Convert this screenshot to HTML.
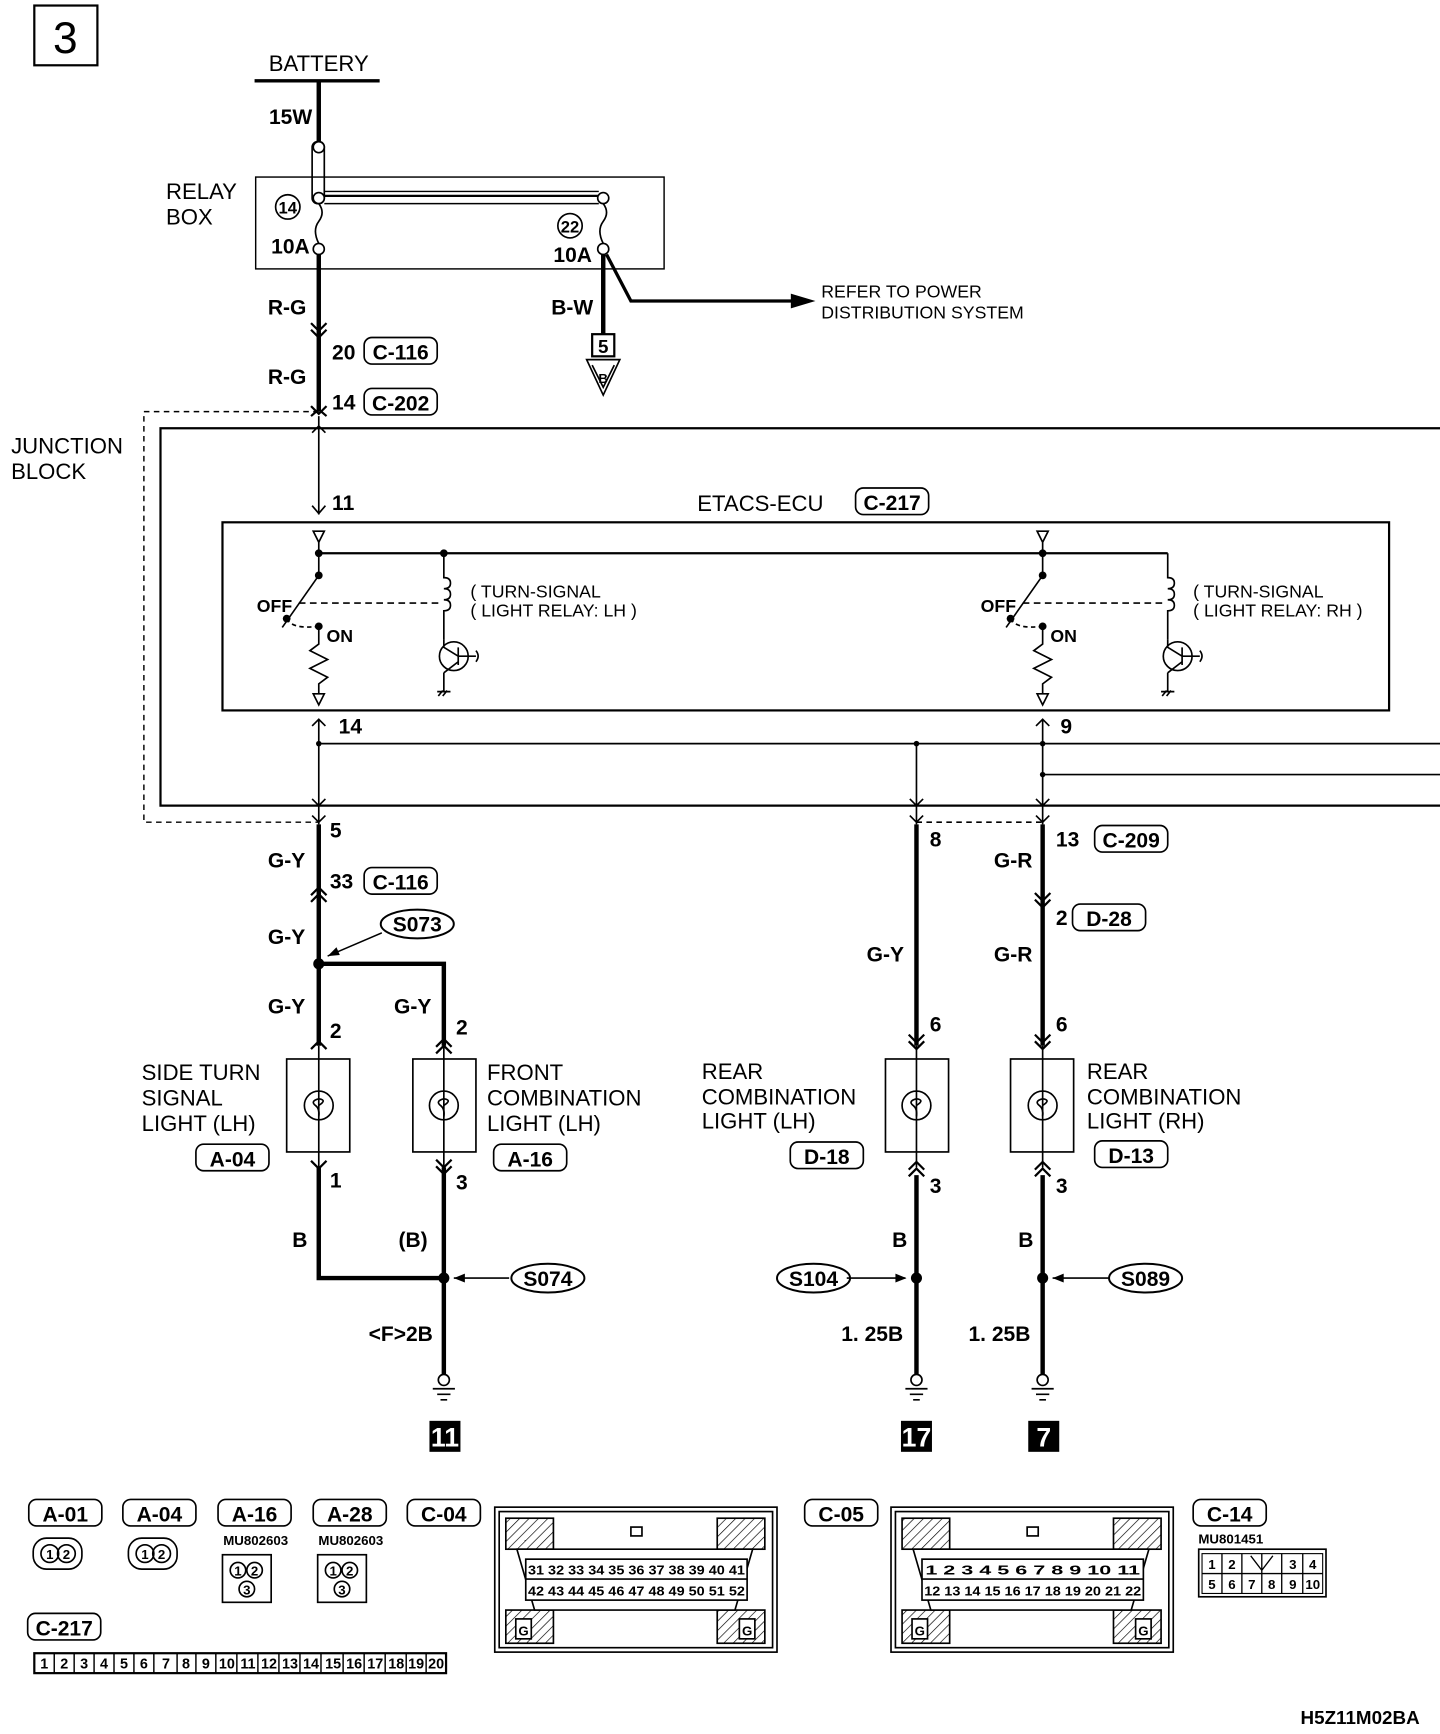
<!DOCTYPE html>
<html><head><meta charset="utf-8"><style>
html,body{margin:0;padding:0;background:#fff;}
svg{display:block}
text{font-family:"Liberation Sans",sans-serif;fill:#000}
.b{font-weight:bold}
.l{font-size:20px}
.s{font-size:19px;font-weight:bold}
</style></head><body>
<svg width="1440" height="1734" viewBox="0 0 1301 1567" preserveAspectRatio="none" xmlns="http://www.w3.org/2000/svg" stroke="#000" fill="none">
<defs><pattern id="h" width="6" height="6" patternUnits="userSpaceOnUse" patternTransform="rotate(45)"><line x1="0" y1="0" x2="0" y2="6" stroke="#000" stroke-width="1.2"/></pattern></defs>
<g stroke-width="2">
<rect x="31" y="5" width="57" height="54"/>
</g>
<text x="59" y="48" font-size="40" text-anchor="middle" stroke="none">3</text>
<text x="288" y="64" class="l" text-anchor="middle" stroke="none">BATTERY</text>
<line x1="230" y1="73" x2="343" y2="73" stroke-width="3"/>
<line x1="288" y1="73" x2="288" y2="128" stroke-width="4"/>
<text x="243" y="112" class="s" stroke="none">15W</text>
<rect x="282" y="128" width="11" height="56" rx="5" stroke-width="1.5"/>
<circle cx="288" cy="133" r="5" fill="#fff" stroke-width="1.5"/>
<circle cx="288" cy="179" r="5" fill="#fff" stroke-width="1.5"/>
<rect x="231" y="160" width="369" height="83" stroke-width="1.3"/>
<text x="150" y="180" class="l" stroke="none">RELAY</text>
<text x="150" y="203" class="l" stroke="none">BOX</text>
<line x1="293" y1="173" x2="541" y2="173" stroke-width="1.3"/>
<line x1="293" y1="177" x2="541" y2="177" stroke-width="2"/>
<line x1="293" y1="184" x2="541" y2="184" stroke-width="1.3"/>
<circle cx="545" cy="179" r="5" fill="#fff" stroke-width="1.5"/>
<circle cx="260" cy="187" r="11" stroke-width="1.5"/>
<text x="260" y="193" font-size="15" class="b" text-anchor="middle" stroke="none">14</text>
<text x="245" y="229" class="s" stroke="none">10A</text>
<path d="M288 184 q6 8 0 16 q-6 8 0 20" stroke-width="1.5"/>
<circle cx="288" cy="225" r="5" fill="#fff" stroke-width="1.5"/>
<circle cx="515" cy="204" r="11" stroke-width="1.5"/>
<text x="515" y="210" font-size="15" class="b" text-anchor="middle" stroke="none">22</text>
<text x="500" y="237" class="s" stroke="none">10A</text>
<path d="M545 184 q6 8 0 16 q-6 8 0 20" stroke-width="1.5"/>
<circle cx="545" cy="225" r="5" fill="#fff" stroke-width="1.5"/>
<line x1="545" y1="230" x2="545" y2="302" stroke-width="4"/>
<text x="498" y="284" class="s" stroke="none">B-W</text>
<path d="M548 230 L570 272 L715 272" stroke-width="3"/>
<path d="M715 266 L735 272 L715 278 Z" fill="#000"/>
<text x="742" y="269" font-size="16" stroke="none">REFER TO POWER</text>
<text x="742" y="288" font-size="16" stroke="none">DISTRIBUTION SYSTEM</text>
<rect x="535" y="302" width="20" height="20" stroke-width="2"/>
<text x="545" y="319" font-size="17" class="b" text-anchor="middle" stroke="none">5</text>
<path d="M530 325 L560 325 L545 357 Z M535 330 L545 350 L555 330" stroke-width="1.5"/>
<text x="545" y="346" font-size="12" class="b" text-anchor="middle" stroke="none">B</text>
<line x1="288" y1="230" x2="288" y2="372" stroke-width="4"/>
<path d="M281 292 L288 299 L295 292 M281 298 L288 305 L295 298" stroke-width="2"/>
<path d="M281 367 L288 374 L295 367 M281 376 L288 370 L295 376" stroke-width="2"/>
<text x="242" y="284" class="s" stroke="none">R-G</text>
<text x="242" y="347" class="s" stroke="none">R-G</text>
<text x="300" y="325" class="s" stroke="none">20</text>
<rect x="329" y="305" width="66" height="24" rx="7" stroke-width="1.5"/>
<text x="362" y="325" class="s" text-anchor="middle" stroke="none">C-116</text>
<text x="300" y="370" class="s" stroke="none">14</text>
<rect x="329" y="351" width="66" height="24" rx="7" stroke-width="1.5"/>
<text x="362" y="371" class="s" text-anchor="middle" stroke="none">C-202</text>
<path d="M288 372 L130 372 L130 743 L288 743" stroke-width="1.3" stroke-dasharray="5,4"/>
<path d="M1301 387 L145 387 L145 728 L1301 728" stroke-width="2"/>
<text x="10" y="410" class="l" stroke="none">JUNCTION</text>
<text x="10" y="433" class="l" stroke="none">BLOCK</text>
<line x1="288" y1="376" x2="288" y2="465" stroke-width="1.5"/>
<path d="M282 391 L288 385 L294 391 M282 457 L288 464 L294 457" stroke-width="1.5"/>
<text x="300" y="461" class="s" stroke="none">11</text>
<text x="630" y="462" class="l" stroke="none">ETACS-ECU</text>
<rect x="773" y="441" width="66" height="24" rx="7" stroke-width="1.5"/>
<text x="806" y="461" class="s" text-anchor="middle" stroke="none">C-217</text>
<rect x="201" y="472" width="1054" height="170" stroke-width="2"/>
<line x1="288" y1="500" x2="1055" y2="500" stroke-width="2"/>
<g fill="#000" stroke="none">
<circle cx="288" cy="500" r="3.5"/><circle cx="401" cy="500" r="3.5"/><circle cx="942" cy="500" r="3.5"/>
<circle cx="288" cy="520" r="3.5"/><circle cx="259" cy="559" r="3.5"/><circle cx="288" cy="566" r="3.5"/>
<circle cx="942" cy="520" r="3.5"/><circle cx="913" cy="559" r="3.5"/><circle cx="942" cy="566" r="3.5"/>
</g>
<g stroke-width="1.5">
<path d="M283 480 L293 480 L288 490 Z"/>
<line x1="288" y1="490" x2="288" y2="520"/>
<path d="M288 520 L255 567"/>
<path d="M259 559 q5 10 29 7" stroke-dasharray="4,3"/>
<line x1="270" y1="545" x2="396" y2="545" stroke-dasharray="6,4"/>
<path d="M288 566 L288 582 L280 588 L296 596 L280 604 L296 612 L288 618 L288 627"/>
<path d="M283 627 L293 627 L288 637 Z"/>
<path d="M401 500 L401 522 q6 0 6 5 q0 5 -6 5 q6 0 6 5 q0 5 -6 5 q6 0 6 5 q0 5 -6 5 L401 578"/>
<circle cx="410" cy="593" r="13"/>
<path d="M401 578 L401 585 L414 593 M414 585 L414 601 M401 608 L414 598 M414 593 L430 593 M430 588 q4 5 0 10 M401 608 L401 625 M395 625 L407 625 M396 629 L400 624 M400 629 L404 624"/>
<path d="M942 490 L942 520 M937 480 L947 480 L942 490 Z M942 520 L909 567"/>
<path d="M913 559 q5 10 29 7" stroke-dasharray="4,3"/>
<line x1="924" y1="545" x2="1050" y2="545" stroke-dasharray="6,4"/>
<path d="M942 566 L942 582 L934 588 L950 596 L934 604 L950 612 L942 618 L942 627"/>
<path d="M937 627 L947 627 L942 637 Z"/>
<path d="M1055 500 L1055 522 q6 0 6 5 q0 5 -6 5 q6 0 6 5 q0 5 -6 5 q6 0 6 5 q0 5 -6 5 L1055 578"/>
<circle cx="1064" cy="593" r="13"/>
<path d="M1055 578 L1055 585 L1068 593 M1068 585 L1068 601 M1055 608 L1068 598 M1068 593 L1084 593 M1084 588 q4 5 0 10 M1055 608 L1055 625 M1049 625 L1061 625 M1050 629 L1054 624 M1054 629 L1058 624"/>
</g>
<text x="232" y="553" font-size="16" class="b" stroke="none">OFF</text>
<text x="295" y="580" font-size="16" class="b" stroke="none">ON</text>
<text x="886" y="553" font-size="16" class="b" stroke="none">OFF</text>
<text x="949" y="580" font-size="16" class="b" stroke="none">ON</text>
<text x="425" y="540" font-size="16" stroke="none">( TURN-SIGNAL</text>
<text x="425" y="557" font-size="16" stroke="none">( LIGHT RELAY: LH  )</text>
<text x="1078" y="540" font-size="16" stroke="none">( TURN-SIGNAL</text>
<text x="1078" y="557" font-size="16" stroke="none">( LIGHT RELAY: RH  )</text>
<g stroke-width="1.5">
<line x1="288" y1="650" x2="288" y2="745"/>
<path d="M282 656 L288 650 L294 656"/>
<line x1="942" y1="650" x2="942" y2="745"/>
<path d="M936 656 L942 650 L948 656"/>
<line x1="288" y1="672" x2="1301" y2="672"/>
<line x1="942" y1="700" x2="1301" y2="700"/>
<line x1="828" y1="672" x2="828" y2="745"/>
<path d="M282 722 L288 728 L294 722 M282 737 L288 743 L294 737"/>
<path d="M822 722 L828 728 L834 722 M822 737 L828 743 L834 737"/>
<path d="M936 722 L942 728 L948 722 M936 737 L942 743 L948 737"/>
<line x1="828" y1="743" x2="942" y2="743" stroke-dasharray="5,4"/>
</g>
<g fill="#000" stroke="none"><circle cx="288" cy="672" r="2.5"/><circle cx="828" cy="672" r="2.5"/><circle cx="942" cy="672" r="2.5"/><circle cx="942" cy="700" r="2.5"/></g>
<text x="306" y="663" class="s" stroke="none">14</text>
<text x="958" y="663" class="s" stroke="none">9</text>
<text x="298" y="757" class="s" stroke="none">5</text>
<text x="840" y="765" class="s" stroke="none">8</text>
<text x="954" y="765" class="s" stroke="none">13</text>
<rect x="989" y="746" width="66" height="24" rx="7" stroke-width="1.5"/>
<text x="1022" y="766" class="s" text-anchor="middle" stroke="none">C-209</text>
<g stroke-width="4">
<line x1="288" y1="745" x2="288" y2="945"/>
<path d="M288 871 L401 871 L401 945"/>
<line x1="828" y1="745" x2="828" y2="945"/>
<line x1="942" y1="745" x2="942" y2="945"/>
</g>
<g stroke-width="2">
<path d="M281 809 L288 802 L295 809 M281 815 L288 808 L295 815"/>
<path d="M935 807 L942 814 L949 807 M935 813 L942 820 L949 813"/>
<path d="M281 948 L288 941 L295 948"/>
<path d="M394 946 L401 939 L408 946 M394 952 L401 945 L408 952"/>
<path d="M821 935 L828 942 L835 935 M821 941 L828 948 L835 941"/>
<path d="M935 935 L942 942 L949 935 M935 941 L942 948 L949 941"/>
</g>
<circle cx="288" cy="871" r="5" fill="#000" stroke="none"/>
<path d="M296 864 L345 843" stroke-width="1.3"/>
<path d="M296 864 L304 856 L307 863 Z" fill="#000" stroke="none"/>
<ellipse cx="377" cy="835" rx="33" ry="13" stroke-width="1.8"/>
<text x="377" y="842" class="s" text-anchor="middle" stroke="none">S073</text>
<text x="242" y="784" class="s" stroke="none">G-Y</text>
<text x="298" y="803" class="s" stroke="none">33</text>
<rect x="329" y="784" width="66" height="24" rx="7" stroke-width="1.5"/>
<text x="362" y="804" class="s" text-anchor="middle" stroke="none">C-116</text>
<text x="242" y="853" class="s" stroke="none">G-Y</text>
<text x="242" y="916" class="s" stroke="none">G-Y</text>
<text x="356" y="916" class="s" stroke="none">G-Y</text>
<text x="298" y="938" class="s" stroke="none">2</text>
<text x="412" y="935" class="s" stroke="none">2</text>
<text x="783" y="869" class="s" stroke="none">G-Y</text>
<text x="898" y="784" class="s" stroke="none">G-R</text>
<text x="954" y="836" class="s" stroke="none">2</text>
<rect x="969" y="817" width="66" height="24" rx="7" stroke-width="1.5"/>
<text x="1002" y="837" class="s" text-anchor="middle" stroke="none">D-28</text>
<text x="898" y="869" class="s" stroke="none">G-R</text>
<text x="840" y="932" class="s" stroke="none">6</text>
<text x="954" y="932" class="s" stroke="none">6</text>
<g stroke-width="1.5">
<rect x="259" y="957" width="57" height="84"/>
<rect x="373" y="957" width="57" height="84"/>
<rect x="800" y="957" width="57" height="84"/>
<rect x="913" y="957" width="57" height="84"/>
<line x1="288" y1="945" x2="288" y2="1055"/><circle cx="288" cy="999" r="13"/><path d="M288 999 q8 -5 0 -6 q-8 2 -3 6 q4 3 3 10"/>
<line x1="401" y1="945" x2="401" y2="1055"/><circle cx="401" cy="999" r="13"/><path d="M401 999 q8 -5 0 -6 q-8 2 -3 6 q4 3 3 10"/>
<line x1="828" y1="945" x2="828" y2="1055"/><circle cx="828" cy="999" r="13"/><path d="M828 999 q8 -5 0 -6 q-8 2 -3 6 q4 3 3 10"/>
<line x1="942" y1="945" x2="942" y2="1055"/><circle cx="942" cy="999" r="13"/><path d="M942 999 q8 -5 0 -6 q-8 2 -3 6 q4 3 3 10"/>
</g>
<g stroke-width="2">
<path d="M281 1049 L288 1056 L295 1049"/>
<path d="M394 1048 L401 1055 L408 1048 M394 1054 L401 1061 L408 1054"/>
<path d="M821 1057 L828 1050 L835 1057 M821 1063 L828 1056 L835 1063"/>
<path d="M935 1057 L942 1050 L949 1057 M935 1063 L942 1056 L949 1063"/>
</g>
<g class="l" stroke="none">
<text x="128" y="976">SIDE TURN</text><text x="128" y="999">SIGNAL</text><text x="128" y="1022">LIGHT (LH)</text>
<text x="440" y="976">FRONT</text><text x="440" y="999">COMBINATION</text><text x="440" y="1022">LIGHT (LH)</text>
<text x="634" y="975">REAR</text><text x="634" y="998">COMBINATION</text><text x="634" y="1020">LIGHT (LH)</text>
<text x="982" y="975">REAR</text><text x="982" y="998">COMBINATION</text><text x="982" y="1020">LIGHT (RH)</text>
</g>
<g stroke-width="1.5">
<rect x="177" y="1034" width="66" height="24" rx="7"/>
<rect x="446" y="1034" width="66" height="24" rx="7"/>
<rect x="714" y="1032" width="66" height="24" rx="7"/>
<rect x="989" y="1031" width="66" height="24" rx="7"/>
</g>
<g class="s" text-anchor="middle" stroke="none">
<text x="210" y="1054">A-04</text><text x="479" y="1054">A-16</text><text x="747" y="1052">D-18</text><text x="1022" y="1051">D-13</text>
</g>
<text x="298" y="1073" class="s" stroke="none">1</text>
<text x="412" y="1075" class="s" stroke="none">3</text>
<text x="840" y="1078" class="s" stroke="none">3</text>
<text x="954" y="1078" class="s" stroke="none">3</text>
<g stroke-width="4">
<path d="M288 1055 L288 1155 L401 1155 M401 1055 L401 1242"/>
<line x1="828" y1="1062" x2="828" y2="1242"/>
<line x1="942" y1="1062" x2="942" y2="1242"/>
</g>
<g fill="#000" stroke="none"><circle cx="401" cy="1155" r="5"/><circle cx="828" cy="1155" r="5"/><circle cx="942" cy="1155" r="5"/></g>
<g stroke-width="1.5">
<circle cx="401" cy="1247" r="5"/><path d="M391 1255 L411 1255 M395 1260 L407 1260 M398 1265 L404 1265"/>
<circle cx="828" cy="1247" r="5"/><path d="M818 1255 L838 1255 M822 1260 L834 1260 M825 1265 L831 1265"/>
<circle cx="942" cy="1247" r="5"/><path d="M932 1255 L952 1255 M936 1260 L948 1260 M939 1265 L945 1265"/>
<line x1="410" y1="1155" x2="460" y2="1155"/><line x1="765" y1="1155" x2="818" y2="1155"/><line x1="951" y1="1155" x2="1002" y2="1155"/>
</g>
<g fill="#000" stroke="none">
<path d="M410 1155 L420 1151 L420 1159 Z"/><path d="M819 1155 L809 1151 L809 1159 Z"/><path d="M951 1155 L961 1151 L961 1159 Z"/>
</g>
<g stroke-width="1.8">
<ellipse cx="495" cy="1155" rx="33" ry="13"/><ellipse cx="735" cy="1155" rx="33" ry="13"/><ellipse cx="1035" cy="1155" rx="33" ry="13"/>
</g>
<g class="s" stroke="none">
<text x="495" y="1162" text-anchor="middle">S074</text><text x="735" y="1162" text-anchor="middle">S104</text><text x="1035" y="1162" text-anchor="middle">S089</text>
<text x="264" y="1127">B</text><text x="360" y="1127">(B)</text><text x="806" y="1127">B</text><text x="920" y="1127">B</text>
<text x="333" y="1212">&lt;F&gt;2B</text><text x="760" y="1212">1. 25B</text><text x="875" y="1212">1. 25B</text>
</g>
<g fill="#000" stroke="none">
<rect x="388" y="1284" width="28" height="28"/><rect x="814" y="1284" width="28" height="28"/><rect x="929" y="1284" width="28" height="28"/>
</g>
<g font-size="24" font-weight="bold" text-anchor="middle" stroke="none">
<text x="402" y="1307" style="fill:#fff">11</text><text x="828" y="1307" style="fill:#fff">17</text><text x="943" y="1307" style="fill:#fff">7</text>
</g>
<g stroke-width="1.5">
<rect x="26" y="1355" width="66" height="24" rx="7"/>
<rect x="111" y="1355" width="66" height="24" rx="7"/>
<rect x="197" y="1355" width="66" height="24" rx="7"/>
<rect x="283" y="1355" width="66" height="24" rx="7"/>
<rect x="368" y="1355" width="66" height="24" rx="7"/>
<rect x="25" y="1458" width="66" height="24" rx="7"/>
<rect x="727" y="1355" width="66" height="24" rx="7"/>
<rect x="1078" y="1355" width="66" height="24" rx="7"/>
</g>
<g class="s" text-anchor="middle" stroke="none">
<text x="59" y="1375">A-01</text><text x="144" y="1375">A-04</text><text x="230" y="1375">A-16</text><text x="316" y="1375">A-28</text><text x="401" y="1375">C-04</text>
<text x="58" y="1478">C-217</text><text x="760" y="1375">C-05</text><text x="1111" y="1375">C-14</text>
</g>
<g stroke-width="1.5">
<rect x="30" y="1390" width="44" height="28" rx="12"/><circle cx="45" cy="1404" r="8"/><circle cx="60" cy="1404" r="8"/>
<rect x="116" y="1390" width="44" height="28" rx="12"/><circle cx="131" cy="1404" r="8"/><circle cx="146" cy="1404" r="8"/>
<rect x="201" y="1405" width="44" height="43"/><circle cx="215" cy="1419" r="7"/><circle cx="230" cy="1419" r="7"/><circle cx="223" cy="1436" r="7"/>
<rect x="287" y="1405" width="44" height="43"/><circle cx="301" cy="1419" r="7"/><circle cx="316" cy="1419" r="7"/><circle cx="309" cy="1436" r="7"/>
</g>
<g font-size="12" font-weight="bold" text-anchor="middle" stroke="none">
<text x="45" y="1409">1</text><text x="60" y="1409">2</text><text x="131" y="1409">1</text><text x="146" y="1409">2</text>
<text x="215" y="1424">1</text><text x="230" y="1424">2</text><text x="223" y="1441">3</text>
<text x="301" y="1424">1</text><text x="316" y="1424">2</text><text x="309" y="1441">3</text>
<text x="231" y="1396">MU802603</text><text x="317" y="1396">MU802603</text>
<text x="1112" y="1395">MU801451</text>
</g>
<rect x="31" y="1494" width="372" height="18" stroke-width="2"/>
<g font-size="13" font-weight="bold" text-anchor="middle" stroke="none">
<text x="40" y="1508">1</text><text x="58" y="1508">2</text><text x="76" y="1508">3</text><text x="94" y="1508">4</text><text x="112" y="1508">5</text><text x="130" y="1508">6</text><text x="150" y="1508">7</text><text x="168" y="1508">8</text><text x="186" y="1508">9</text><text x="205" y="1508">10</text><text x="224" y="1508">11</text><text x="243" y="1508">12</text><text x="262" y="1508">13</text><text x="281" y="1508">14</text><text x="301" y="1508">15</text><text x="320" y="1508">16</text><text x="339" y="1508">17</text><text x="358" y="1508">18</text><text x="376" y="1508">19</text><text x="394" y="1508">20</text>
</g>
<path d="M49 1494v18M67 1494v18M85 1494v18M103 1494v18M121 1494v18M139 1494v18M160 1494v18M177 1494v18M195 1494v18M214 1494v18M233 1494v18M252 1494v18M271 1494v18M290 1494v18M310 1494v18M329 1494v18M348 1494v18M367 1494v18M385 1494v18" stroke-width="1.3"/>
<g stroke-width="1.5">
<rect x="447" y="1362" width="255" height="131"/>
<rect x="451" y="1366" width="247" height="123"/>
<rect x="457" y="1372" width="43" height="28" fill="url(#h)"/><rect x="648" y="1372" width="43" height="28" fill="url(#h)"/>
<rect x="457" y="1455" width="43" height="30" fill="url(#h)"/><rect x="648" y="1455" width="43" height="30" fill="url(#h)"/>
<path d="M467 1400 L680 1400 L664 1455 L483 1455 Z" fill="#fff"/>
<rect x="475" y="1409" width="200" height="37" fill="#fff"/>
<rect x="570" y="1380" width="10" height="8"/>
<rect x="466" y="1463" width="14" height="18" fill="#fff"/><rect x="668" y="1463" width="14" height="18" fill="#fff"/>
</g>
<line x1="475" y1="1427" x2="675" y2="1427" stroke-width="1.5"/>
<g font-size="12" font-weight="bold" stroke="none">
<text x="477" y="1423" textLength="196" lengthAdjust="spacingAndGlyphs">31 32 33 34 35 36 37 38 39 40 41</text>
<text x="477" y="1442" textLength="196" lengthAdjust="spacingAndGlyphs">42 43 44 45 46 47 48 49 50 51 52</text>
<text x="473" y="1478" text-anchor="middle">G</text><text x="675" y="1478" text-anchor="middle">G</text>
</g>
<g stroke-width="1.5">
<rect x="805" y="1362" width="255" height="131"/>
<rect x="809" y="1366" width="247" height="123"/>
<rect x="815" y="1372" width="43" height="28" fill="url(#h)"/><rect x="1006" y="1372" width="43" height="28" fill="url(#h)"/>
<rect x="815" y="1455" width="43" height="30" fill="url(#h)"/><rect x="1006" y="1455" width="43" height="30" fill="url(#h)"/>
<path d="M825 1400 L1038 1400 L1022 1455 L841 1455 Z" fill="#fff"/>
<rect x="833" y="1409" width="200" height="37" fill="#fff"/>
<rect x="928" y="1380" width="10" height="8"/>
<rect x="824" y="1463" width="14" height="18" fill="#fff"/><rect x="1026" y="1463" width="14" height="18" fill="#fff"/>
</g>
<line x1="833" y1="1427" x2="1033" y2="1427" stroke-width="1.5"/>
<g font-size="12" font-weight="bold" stroke="none">
<text x="836" y="1423" textLength="194" lengthAdjust="spacingAndGlyphs">1  2  3  4  5  6  7  8  9 10 11</text>
<text x="835" y="1442" textLength="196" lengthAdjust="spacingAndGlyphs">12 13 14 15 16 17 18 19 20 21 22</text>
<text x="831" y="1478" text-anchor="middle">G</text><text x="1033" y="1478" text-anchor="middle">G</text>
</g>
<rect x="1083" y="1400" width="115" height="43" stroke-width="1.5"/>
<rect x="1086" y="1404" width="109" height="36" stroke-width="1"/>
<path d="M1086 1422 L1195 1422 M1104 1404v36 M1122 1422v18 M1122 1404v18 M1140 1404v36 M1158 1422v18 M1158 1404v18 M1177 1404v36 M1130 1406 L1140 1419 L1150 1406" stroke-width="1.2"/>
<g font-size="12" font-weight="bold" text-anchor="middle" stroke="none">
<text x="1095" y="1418">1</text><text x="1113" y="1418">2</text><text x="1168" y="1418">3</text><text x="1186" y="1418">4</text>
<text x="1095" y="1436">5</text><text x="1113" y="1436">6</text><text x="1131" y="1436">7</text><text x="1149" y="1436">8</text><text x="1168" y="1436">9</text><text x="1186" y="1436">10</text>
</g>
<text x="1175" y="1558" font-size="17" font-weight="bold" stroke="none">H5Z11M02BA</text>
</svg>
</body></html>
